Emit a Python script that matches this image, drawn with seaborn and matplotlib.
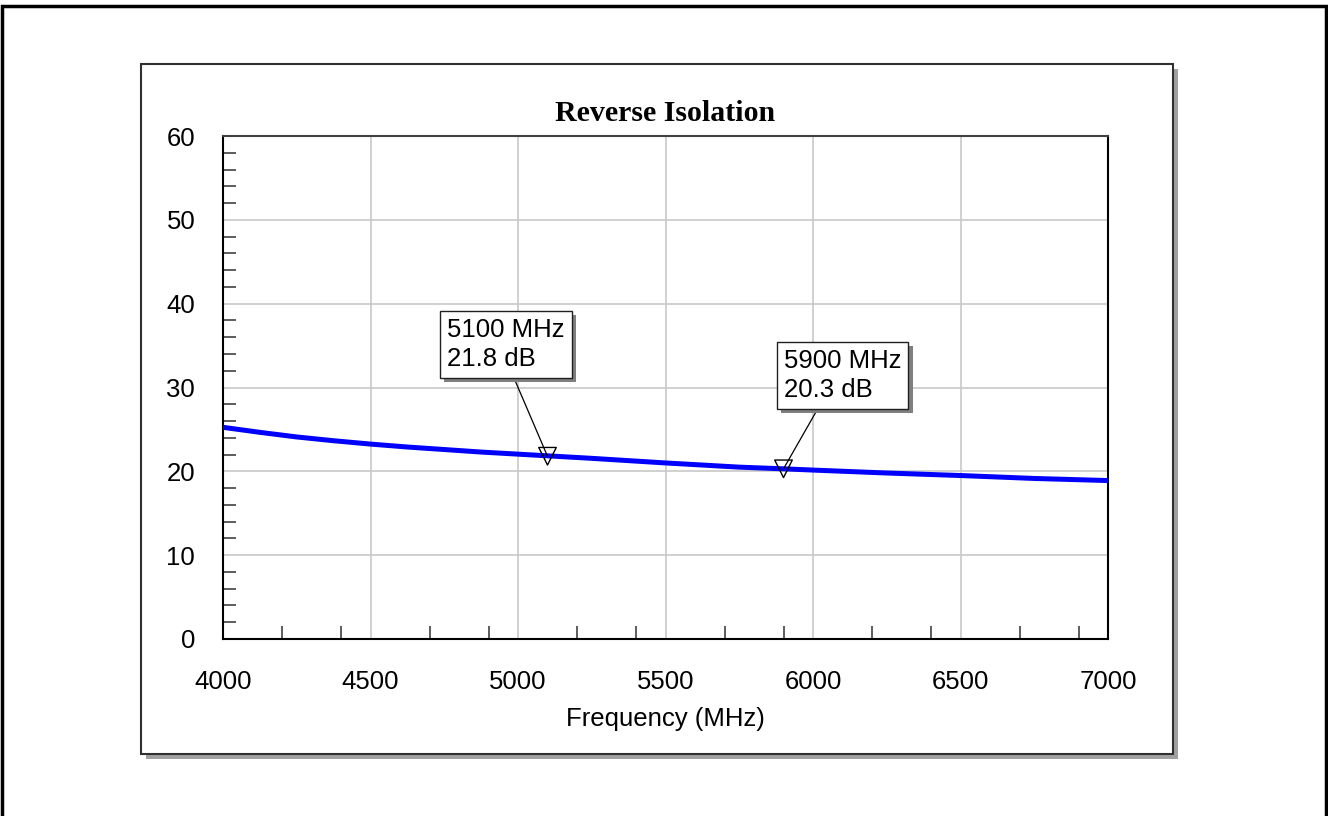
import numpy as np
import pandas as pd
import matplotlib
matplotlib.use("Agg")
import matplotlib.pyplot as plt
import matplotlib.patches as mpatches
import matplotlib.patheffects as pe
from matplotlib.ticker import FixedLocator, MultipleLocator
import seaborn as sns

# ---- data ----
freq_mhz = [4000, 4125, 4250, 4375, 4500, 4625, 4750, 4875, 5000, 5100, 5250, 5500,
            5750, 5900, 6000, 6250, 6500, 6750, 7000]
isolation_db = [25.25, 24.65, 24.1, 23.65, 23.25, 22.9, 22.6, 22.3, 22.05, 21.85, 21.55, 21.0,
                20.5, 20.3, 20.15, 19.8, 19.5, 19.15, 18.9]
marker_freq = [5100, 5900]
marker_db = [21.8, 20.3]
marker_labels = ["5100 MHz\n21.8 dB", "5900 MHz\n20.3 dB"]
marker_text_pos = [(4958, 35.1), (6100, 31.4)]
x_ticks = [4000, 4500, 5000, 5500, 6000, 6500, 7000]
x_minor = [4200, 4400, 4700, 4900, 5200, 5400, 5700, 5900, 6200, 6400, 6700, 6900]
y_ticks = [0, 10, 20, 30, 40, 50, 60]

df = pd.DataFrame({"Frequency (MHz)": freq_mhz, "Isolation (dB)": isolation_db})

sns.set_theme(style="white")
plt.rcParams["font.family"] = ["Liberation Sans", "DejaVu Sans"]

W, H = 1328, 816
fig = plt.figure(figsize=(W / 100, H / 100), dpi=100)
fig.patch.set_facecolor("white")

def fx(px):
    return px / W

def fy(py):
    return 1 - py / H

# outer frame
fig.patches.append(mpatches.Rectangle((fx(2), fy(830)), fx(1326) - fx(2), fy(6) - fy(830),
                                      transform=fig.transFigure, fill=False, edgecolor="black",
                                      linewidth=2.5, zorder=-3))
# panel shadow
fig.patches.append(mpatches.Rectangle((fx(146), fy(759)), fx(1178) - fx(146), fy(69) - fy(759),
                                      transform=fig.transFigure, facecolor="#a0a0a0", edgecolor="none",
                                      zorder=-2))
# panel
fig.patches.append(mpatches.Rectangle((fx(141), fy(754)), fx(1173) - fx(141), fy(64) - fy(754),
                                      transform=fig.transFigure, facecolor="white", edgecolor="#303030",
                                      linewidth=1.5, zorder=-1))

ax = fig.add_axes([fx(223), fy(639), fx(1108) - fx(223), fy(136) - fy(639)])
ax.set_zorder(2)
ax.set_facecolor("white")

sns.lineplot(data=df, x="Frequency (MHz)", y="Isolation (dB)", ax=ax, color="#0000ff",
             linewidth=3.6, zorder=3)

ax.scatter(marker_freq, marker_db, marker="v", s=160, facecolors="none", edgecolors="black",
           linewidths=1.0, zorder=4)

for fq, db, lab, pos in zip(marker_freq, marker_db, marker_labels, marker_text_pos):
    ann = ax.annotate(lab, xy=(fq, db), xytext=pos, textcoords="data",
                      ha="center", va="center", multialignment="left",
                      fontsize=18.5, linespacing=1.25, color="black",
                      bbox=dict(boxstyle="square,pad=0.28", facecolor="white", edgecolor="#202020",
                                linewidth=1.0),
                      arrowprops=dict(arrowstyle="-", color="black", linewidth=0.9,
                                      shrinkA=0, shrinkB=0, relpos=(0.45, 0.5)),
                      zorder=5)
    ann.get_bbox_patch().set_path_effects([
        pe.SimplePatchShadow(offset=(3, -3), shadow_rgbFace="#808080", alpha=1.0),
        pe.Normal()])

ax.set_xlim(4000, 7000)
ax.set_ylim(0, 60)
ax.xaxis.set_major_locator(FixedLocator(x_ticks))
ax.yaxis.set_major_locator(FixedLocator(y_ticks))
ax.xaxis.set_minor_locator(FixedLocator(x_minor))
ax.yaxis.set_minor_locator(MultipleLocator(2))
ax.set_xticklabels([str(t) for t in x_ticks])
ax.set_yticklabels([str(t) for t in y_ticks])

ax.grid(True, which="major", color="#c8c8c8", linewidth=1.2, zorder=1)
ax.set_axisbelow(True)

ax.tick_params(axis="both", which="major", length=0, labelsize=18.5, colors="black")
ax.tick_params(axis="x", which="major", pad=22)
ax.tick_params(axis="y", which="major", pad=20)
ax.tick_params(axis="both", which="minor", direction="in", length=9.5, width=1.1,
               color="#303030", bottom=True, left=True, top=False, right=False)

for side, sp in ax.spines.items():
    sp.set_visible(True)
    sp.set_color("black" if side in ("left", "bottom", "right") else "#404040")
    sp.set_linewidth(1.5)

ax.set_xlabel("Frequency (MHz)", fontsize=18.5, labelpad=10, color="black")
ax.set_ylabel("")
ax.set_title("Reverse Isolation", fontsize=21.5, fontweight="bold",
             family=["Liberation Serif", "DejaVu Serif"], pad=11, color="black")

fig.savefig("out.png", dpi=100, facecolor="white")
